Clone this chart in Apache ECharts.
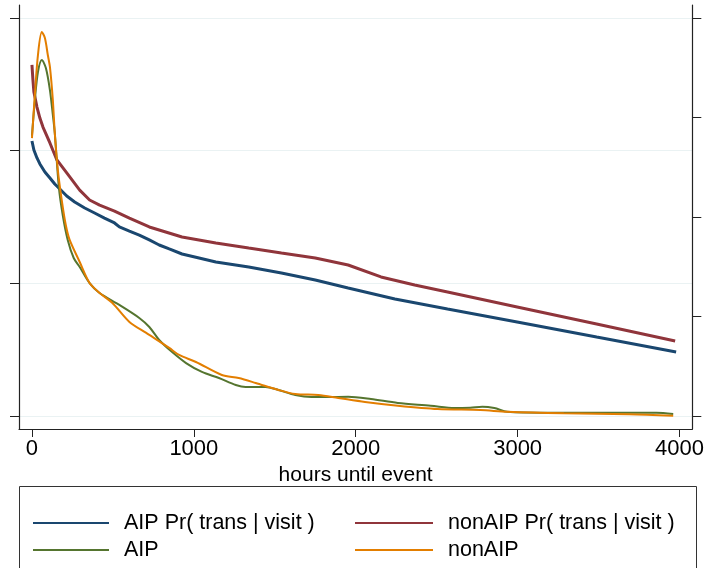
<!DOCTYPE html>
<html>
<head>
<meta charset="utf-8">
<script src="https://cdn.jsdelivr.net/npm/echarts@6/dist/echarts.min.js"></script>
<style>html,body{margin:0;padding:0;background:#fff}#c{width:707px;height:568px}</style>
</head>
<body>
<div id="c"></div>
<script>
// ---- data ----
const xTicks = [0, 1000, 2000, 3000, 4000];
const xTitle = 'hours until event';
const leftTicks = [0, 1, 2, 3];
const rightTicks = [0, 1, 2, 3, 4];
const seriesNames = ['AIP Pr( trans | visit )', 'nonAIP Pr( trans | visit )', 'AIP', 'nonAIP'];

const aipPrHours = [0,12,31,49,80,111,141,172,215,264,326,387,448,510,540,602,663,725,786,848,927,1032,1136,1339,1541,1750,1953,2242,2567,2997,3488,3979];
const aipPrVals  = [2.073,2.005,1.945,1.900,1.839,1.794,1.749,1.711,1.658,1.613,1.568,1.530,1.492,1.455,1.425,1.394,1.364,1.327,1.289,1.259,1.221,1.191,1.161,1.123,1.078,1.025,0.965,0.882,0.807,0.709,0.595,0.482];

const nonPrHours = [0,6,12,31,49,68,111,154,215,295,356,418,510,602,725,927,1136,1339,1541,1750,1953,2156,2364,2567,2997,3488,3973];
const nonPrVals  = [2.646,2.533,2.442,2.329,2.246,2.178,2.058,1.930,1.832,1.703,1.628,1.590,1.545,1.492,1.425,1.349,1.304,1.266,1.229,1.191,1.138,1.048,0.987,0.935,0.822,0.693,0.565];

const aipHours = [0,18,37,61,86,111,129,141,166,190,221,258,295,356,418,540,663,725,786,866,952,1050,1155,1259,1320,1443,1523,1627,1726,1830,1953,2094,2260,2463,2610,2708,2782,2856,2936,3181,3488,3691,3857,3961];
const aipVals  = [2.111,2.382,2.593,2.683,2.623,2.457,2.269,2.133,1.726,1.515,1.327,1.191,1.123,1.002,0.927,0.837,0.739,0.671,0.573,0.482,0.399,0.332,0.286,0.234,0.219,0.219,0.196,0.158,0.143,0.143,0.145,0.128,0.098,0.078,0.060,0.063,0.070,0.060,0.032,0.025,0.025,0.025,0.025,0.015];

const nonHours = [0,18,37,61,80,98,111,129,141,160,184,209,233,295,356,418,497,602,706,848,909,1013,1173,1277,1382,1523,1627,1769,1892,2057,2260,2506,2770,2936,3286,3691,3961];
const nonVals  = [2.095,2.420,2.721,2.894,2.849,2.721,2.631,2.382,2.133,1.854,1.628,1.440,1.327,1.161,1.002,0.927,0.852,0.709,0.626,0.513,0.460,0.407,0.309,0.286,0.249,0.196,0.166,0.158,0.136,0.106,0.078,0.053,0.045,0.032,0.020,0.013,0.002];

// ---- build ----
const pair = (h, v) => h.map((x, i) => [x, v[i]]);
const FONT = "'Liberation Sans', Arial, Helvetica, sans-serif";
const colors = ['#1a476f', '#90353b', '#55752f', '#e37e00'];

const chart = echarts.init(document.getElementById('c'), null, {renderer: 'canvas'});
const mk = (name, data, color, width, smooth) => ({
  name, type: 'line', data, showSymbol: false, symbol: 'none', smooth,
  lineStyle: {color, width}, itemStyle: {color}, animation: false
});
const legendText = {fontSize: 21.5, color: '#000', fontFamily: FONT, lineHeight: 20, padding: [0, 0, 0, 10]};

chart.setOption({
  animation: false,
  backgroundColor: '#fff',
  textStyle: {fontFamily: FONT},
  grid: {left: 19, right: 11, top: 5, bottom: 139, containLabel: false},
  xAxis: {
    type: 'value', min: -80, max: 4079,
    name: xTitle, nameLocation: 'middle', nameGap: 29,
    nameTextStyle: {fontSize: 21, color: '#000', fontFamily: FONT},
    axisLine: {show: true, onZero: false, lineStyle: {color: '#222', width: 1.2}},
    axisTick: {show: true, length: 8, customValues: xTicks, lineStyle: {color: '#222'}},
    axisLabel: {show: true, customValues: xTicks, fontSize: 22, color: '#000', margin: 9, fontFamily: FONT,
      formatter: v => String(v)},
    splitLine: {show: false}
  },
  yAxis: [{
    type: 'value', min: -0.098, max: 3.098, position: 'left',
    axisLine: {show: true, onZero: false, lineStyle: {color: '#222', width: 1.2}},
    axisTick: {show: true, length: 9, customValues: leftTicks, lineStyle: {color: '#222'}},
    axisLabel: {show: false, customValues: leftTicks},
    splitLine: {show: true, lineStyle: {color: '#eaf2f3', width: 1.2}}
  }, {
    type: 'value', min: -0.1307, max: 4.1307, position: 'right',
    axisLine: {show: true, onZero: false, lineStyle: {color: '#222', width: 1.2}},
    axisTick: {show: true, length: 9, customValues: rightTicks, lineStyle: {color: '#222'}},
    axisLabel: {show: false, customValues: rightTicks},
    splitLine: {show: false}
  }],
  legend: [{
    orient: 'vertical', left: 28, top: 507, itemWidth: 76, itemHeight: 2, itemGap: 5, icon: 'rect',
    data: [seriesNames[0], seriesNames[2]], textStyle: legendText
  }, {
    orient: 'vertical', left: 350, top: 507, itemWidth: 78, itemHeight: 2, itemGap: 5, icon: 'rect',
    data: [seriesNames[1], seriesNames[3]], textStyle: legendText
  }],
  graphic: [{
    type: 'rect', shape: {x: 19.5, y: 486.5, width: 677, height: 100},
    style: {fill: 'none', stroke: '#333', lineWidth: 1}, silent: true
  }],
  series: [
    mk(seriesNames[0], pair(aipPrHours, aipPrVals), colors[0], 3, false),
    mk(seriesNames[1], pair(nonPrHours, nonPrVals), colors[1], 3, false),
    mk(seriesNames[2], pair(aipHours, aipVals), colors[2], 2, 0.3),
    mk(seriesNames[3], pair(nonHours, nonVals), colors[3], 2, 0.3)
  ]
});
</script>
</body>
</html>
